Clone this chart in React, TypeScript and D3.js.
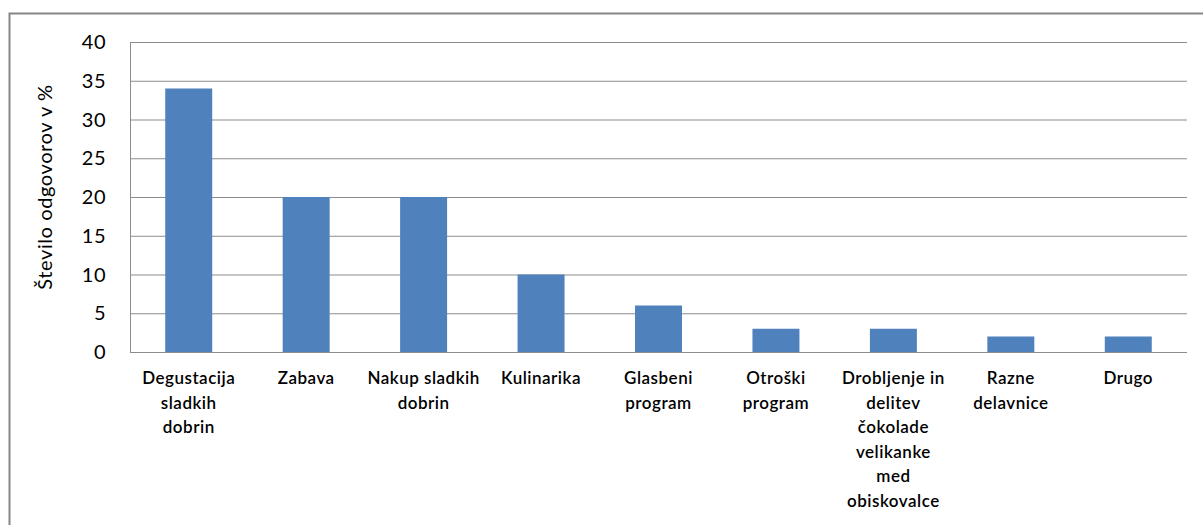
import React from "react";
import * as d3 from "d3";

const categories = [
  "Degustacija\nsladkih\ndobrin",
  "Zabava",
  "Nakup sladkih\ndobrin",
  "Kulinarika",
  "Glasbeni\nprogram",
  "Otroški\nprogram",
  "Drobljenje in\ndelitev\nčokolade\nvelikanke\nmed\nobiskovalce",
  "Razne\ndelavnice",
  "Drugo",
];
const values = [34, 20, 20, 10, 6, 3, 3, 2, 2];
const yTicks = [0, 5, 10, 15, 20, 25, 30, 35, 40];
const yTitle = "Število odgovorov v %";

export default function App() {
  const W = 1203, H = 525;
  const left = 130, right = 1187, top = 42, bottom = 352;
  const x = d3.scaleBand<number>().domain(d3.range(categories.length)).range([left, right]).paddingInner(0.6).paddingOuter(0.3);
  const y = d3.scaleLinear().domain([0, 40]).range([bottom, top]);
  const font = "Lato, 'Open Sans', sans-serif";
  return (
    <svg width={W} height={H} style={{ position: "absolute", left: 0, top: 0, background: "#fff" }}>
      <rect x={9.5} y={13.5} width={1300} height={600} fill="#fff" stroke="#868686" strokeWidth={2} />
      {yTicks.map((t) => (
        <g key={t}>
          {t > 0 && <line x1={left} x2={right} y1={y(t) + 0.5} y2={y(t) + 0.5} stroke="#8c8c8c" strokeWidth={1} />}
          <text x={106} y={y(t)} dy="0.35em" textAnchor="end" fontFamily={font} fontSize={20} letterSpacing={0.5} fill="#000">{t}</text>
        </g>
      ))}
      <line x1={left + 0.5} x2={left + 0.5} y1={top} y2={bottom} stroke="#8c8c8c" />
      {values.map((v, i) => (
        <rect key={i} x={x(i)!} y={y(v)} width={x.bandwidth()} height={y(0) - y(v)} fill="#4f81bd" />
      ))}
      <line x1={left} x2={right} y1={bottom + 0.5} y2={bottom + 0.5} stroke="#8c8c8c" />
      {categories.map((c, i) => (
        <text key={i} x={x(i)! + x.bandwidth() / 2} y={384} textAnchor="middle" fontFamily={font} fontSize={17} letterSpacing={0.5} fontWeight={600} fill="#000">
          {c.split("\n").map((ln, j) => (
            <tspan key={j} x={x(i)! + x.bandwidth() / 2} dy={j === 0 ? 0 : 24.5}>{ln}</tspan>
          ))}
        </text>
      ))}
      <text transform={`translate(52,${(top + bottom) / 2 - 10}) rotate(-90)`} textAnchor="middle" fontFamily={font} fontSize={20} letterSpacing={0.6} fill="#000">{yTitle}</text>
    </svg>
  );
}
